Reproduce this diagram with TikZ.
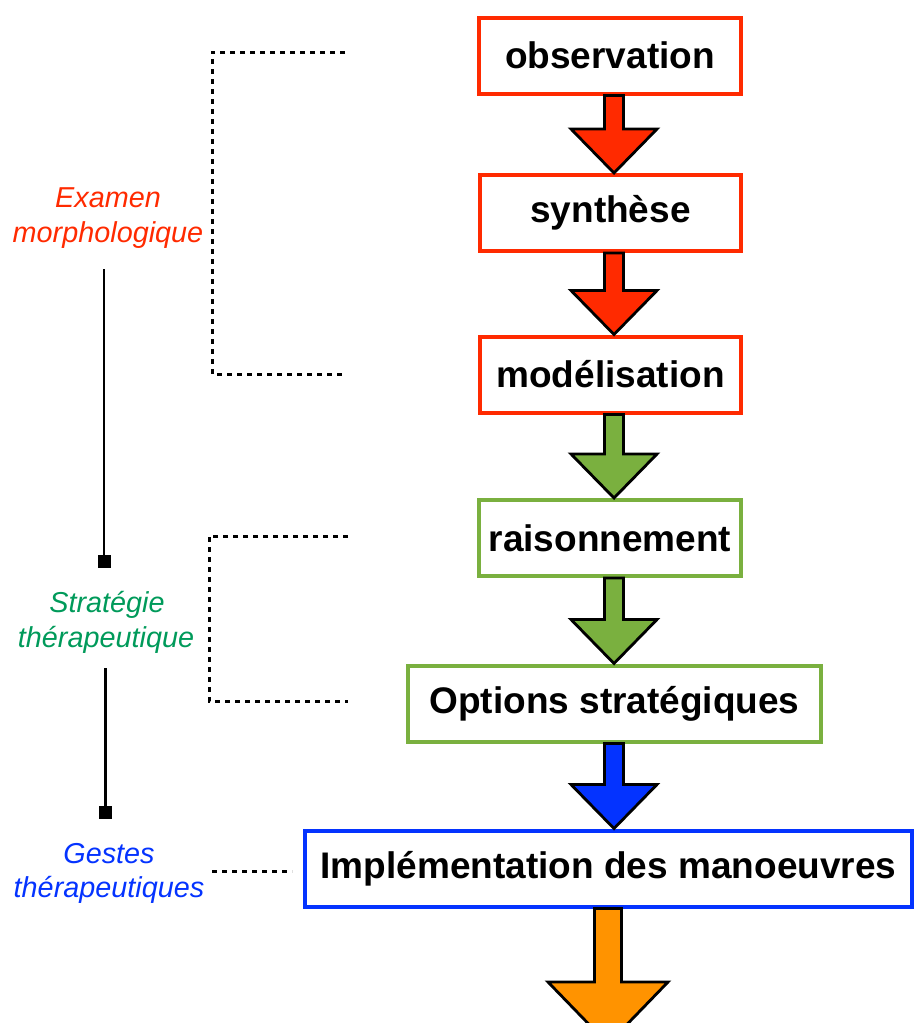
\documentclass[tikz,border=0pt]{standalone}
\usepackage{fontspec}
\setmainfont{Liberation Sans}
\usetikzlibrary{calc}
\definecolor{cred}{HTML}{FF2A00}
\definecolor{cgreen}{HTML}{7AB03F}
\definecolor{cblue}{HTML}{0433FF}
\definecolor{corange}{HTML}{FF9300}
\definecolor{tgreen}{HTML}{009A5A}
\tikzset{
  box/.style={draw=#1, line width=2pt, fill=white, minimum height=38pt, inner sep=0pt,
    font=\fontsize{18.5}{22}\selectfont\bfseries},
  blockarrow/.style={draw=black, line width=1.4pt, line join=miter},
  dotline/.style={line width=1.5pt, dash pattern=on 2.5pt off 2.5pt},
  solidline/.style={line width=1.1pt},
  sqmark/.style={fill=black, inner sep=0pt, minimum size=6.5pt},
  lab/.style={anchor=base, font=\fontsize{14.4}{17.5}\selectfont\itshape},
}
% #1 from node, #2 to node, #3 fill colour, #4 centre x (pt)
\newcommand\blockarr[4]{%
  \path[blockarrow, fill=#3] let \p1=(#1.south), \p2=(#2.north) in
    (#4-4.75pt,\y1) -- (#4+4.75pt,\y1) -- (#4+4.75pt,\y2+22pt) -- (#4+21.5pt,\y2+22pt)
    -- (#4,\y2) -- (#4-21.5pt,\y2+22pt) -- (#4-4.75pt,\y2+22pt) -- cycle;}
\begin{document}
\begin{tikzpicture}[x=0.5pt,y=-0.5pt]
\useasboundingbox (0,0) rectangle (916,1023);

% boxes
\node[box=cred,   minimum width=131pt]   (obs) at (610,55.5)  {observation};
\node[box=cred,   minimum width=130.5pt] (syn) at (610.5,213) {synthèse};
\node[box=cred,   minimum width=130.5pt] (mod) at (610.5,374.5) {modélisation};
\node[box=cgreen, minimum width=131pt]   (rai) at (610,538)   {raisonnement};
\node[box=cgreen, minimum width=206.5pt] (opt) at (614.5,703.5) {Options stratégiques};
\node[box=cblue,  minimum width=303.5pt] (imp) at (608.5,868.5) {Implémentation des manoeuvres};

% block arrows
\blockarr{obs}{syn}{cred}{307pt}
\blockarr{syn}{mod}{cred}{307pt}
\blockarr{mod}{rai}{cgreen}{307pt}
\blockarr{rai}{opt}{cgreen}{307pt}
\blockarr{opt}{imp}{cblue}{307pt}
\coordinate (endarr) at (608,1044);
\path[blockarrow, fill=corange] let \p1=(imp.south), \p2=(endarr) in
  (304pt-6.75pt,\y1) -- (304pt+6.75pt,\y1) -- (304pt+6.75pt,\y2+31pt) -- (304pt+30pt,\y2+31pt)
  -- (304pt,\y2) -- (304pt-30pt,\y2+31pt) -- (304pt-6.75pt,\y2+31pt) -- cycle;

% dotted brackets
\coordinate (b1a) at (345,52);  \coordinate (b1b) at (212,52);
\coordinate (b1c) at (212,374); \coordinate (b1d) at (345,374);
\draw[dotline] (b1a) -- (b1b) -- (b1c) -- (b1d);
\coordinate (b2a) at (348,536); \coordinate (b2b) at (209,536);
\coordinate (b2c) at (209,701); \coordinate (b2d) at (348,701);
\draw[dotline] (b2a) -- (b2b) -- (b2c) -- (b2d);
\coordinate (b3a) at (212,871); \coordinate (b3b) at (292,871);
\draw[dotline] (b3a) -- (b3b);

% labels
\node[lab, text=cred] (l1a) at (108,207) {Examen};
\node[lab, text=cred] (l1b) at (108,242) {morphologique};
\node[lab, text=tgreen] (l2a) at (107,612) {Stratégie};
\node[lab, text=tgreen] (l2b) at (106,647) {thérapeutique};
\node[lab, text=cblue] (l3a) at (109,863) {Gestes};
\node[lab, text=cblue] (l3b) at (109,897) {thérapeutiques};

% solid timeline
\node[sqmark] (sq1) at (104,561.5) {};
\node[sqmark] (sq2) at (105.5,812) {};
\coordinate (t1) at (104,269);
\coordinate (t2) at (105.5,668);
\draw[solidline] (t1) -- (sq1.center);
\draw[solidline] (t2) -- (sq2.center);
\end{tikzpicture}
\end{document}
